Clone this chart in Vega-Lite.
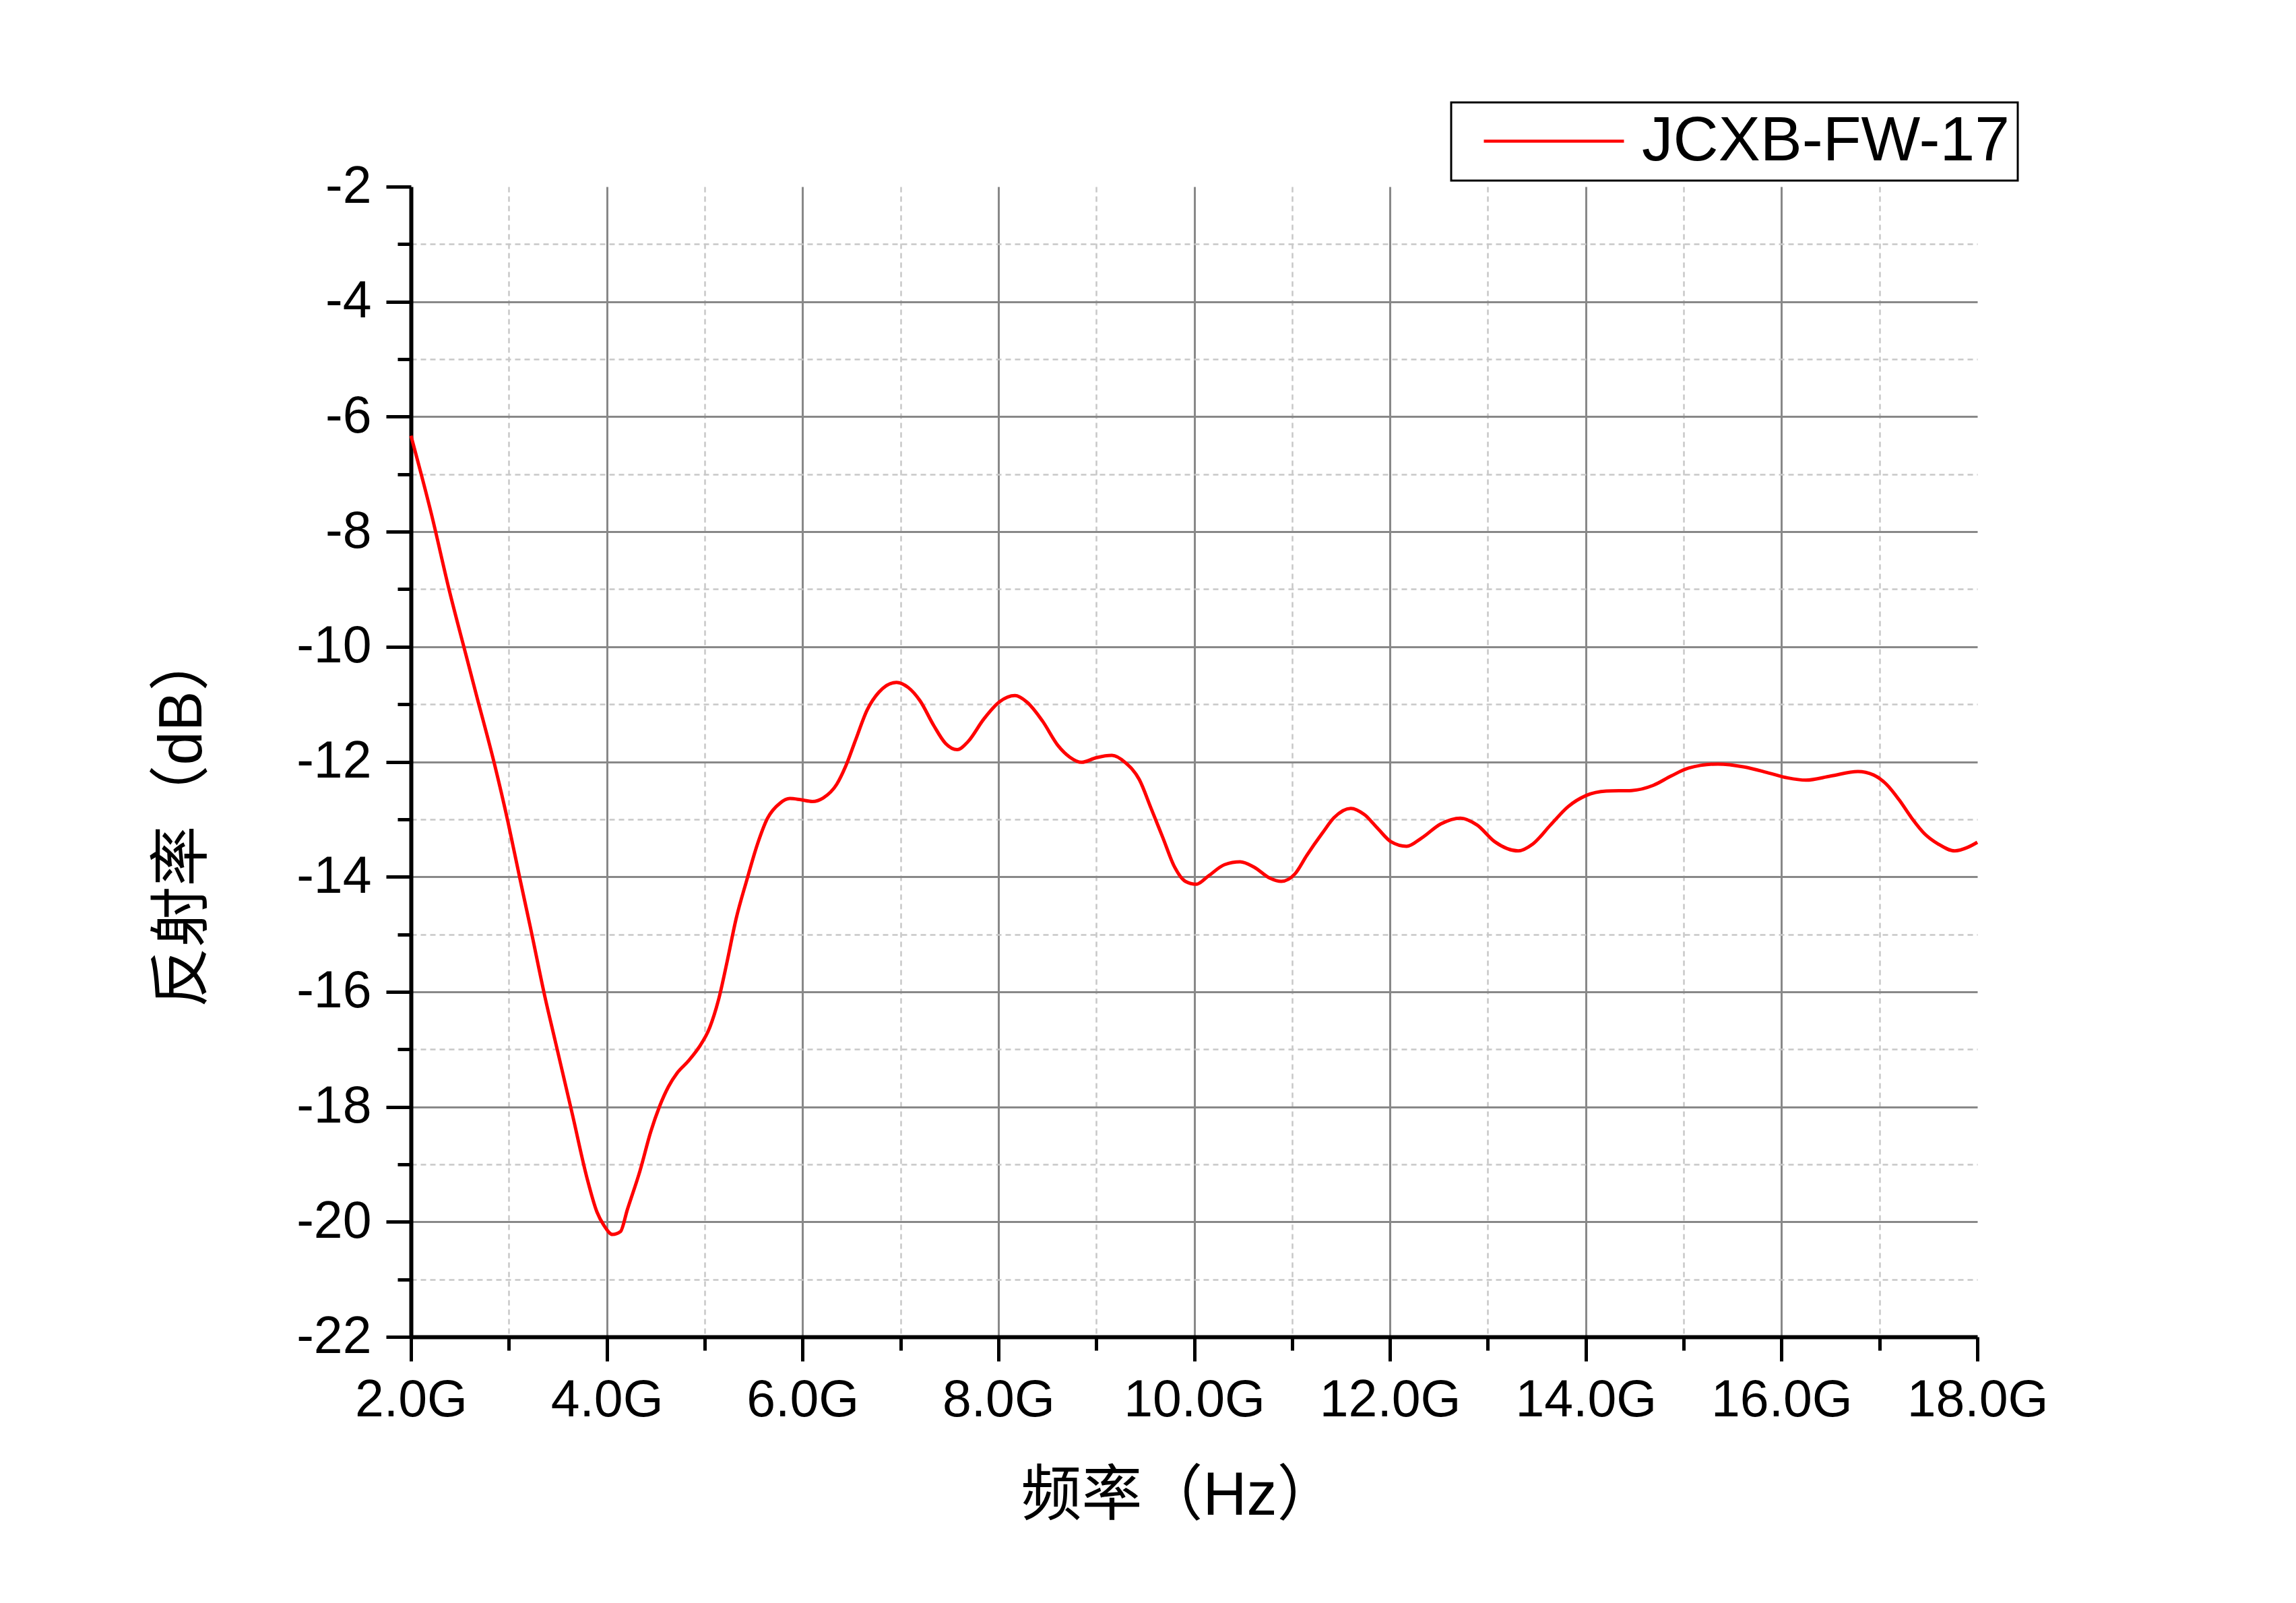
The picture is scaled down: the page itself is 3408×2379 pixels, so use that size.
{
  "$schema": "https://vega.github.io/schema/vega-lite/v6.json",
  "width": 2325,
  "height": 1707,
  "autosize": "none",
  "padding": {"left": 610, "top": 277, "right": 473, "bottom": 395},
  "background": "white",
  "config": {"view": {"stroke": null}},
  "data": {"values": [
    {"freq": 2.00, "rl": -6.33, "series": "JCXB-FW-17"},
    {"freq": 2.21, "rl": -7.70, "series": "JCXB-FW-17"},
    {"freq": 2.39, "rl": -9.01, "series": "JCXB-FW-17"},
    {"freq": 2.56, "rl": -10.13, "series": "JCXB-FW-17"},
    {"freq": 2.67, "rl": -10.85, "series": "JCXB-FW-17"},
    {"freq": 2.85, "rl": -12.02, "series": "JCXB-FW-17"},
    {"freq": 2.99, "rl": -13.04, "series": "JCXB-FW-17"},
    {"freq": 3.11, "rl": -14.01, "series": "JCXB-FW-17"},
    {"freq": 3.22, "rl": -14.88, "series": "JCXB-FW-17"},
    {"freq": 3.37, "rl": -16.10, "series": "JCXB-FW-17"},
    {"freq": 3.47, "rl": -16.83, "series": "JCXB-FW-17"},
    {"freq": 3.65, "rl": -18.14, "series": "JCXB-FW-17"},
    {"freq": 3.80, "rl": -19.25, "series": "JCXB-FW-17"},
    {"freq": 3.90, "rl": -19.83, "series": "JCXB-FW-17"},
    {"freq": 3.97, "rl": -20.06, "series": "JCXB-FW-17"},
    {"freq": 4.06, "rl": -20.22, "series": "JCXB-FW-17"},
    {"freq": 4.14, "rl": -20.17, "series": "JCXB-FW-17"},
    {"freq": 4.21, "rl": -19.79, "series": "JCXB-FW-17"},
    {"freq": 4.34, "rl": -19.11, "series": "JCXB-FW-17"},
    {"freq": 4.45, "rl": -18.43, "series": "JCXB-FW-17"},
    {"freq": 4.54, "rl": -17.99, "series": "JCXB-FW-17"},
    {"freq": 4.63, "rl": -17.65, "series": "JCXB-FW-17"},
    {"freq": 4.72, "rl": -17.41, "series": "JCXB-FW-17"},
    {"freq": 4.83, "rl": -17.21, "series": "JCXB-FW-17"},
    {"freq": 4.94, "rl": -16.97, "series": "JCXB-FW-17"},
    {"freq": 5.05, "rl": -16.63, "series": "JCXB-FW-17"},
    {"freq": 5.14, "rl": -16.15, "series": "JCXB-FW-17"},
    {"freq": 5.23, "rl": -15.47, "series": "JCXB-FW-17"},
    {"freq": 5.32, "rl": -14.74, "series": "JCXB-FW-17"},
    {"freq": 5.43, "rl": -14.06, "series": "JCXB-FW-17"},
    {"freq": 5.54, "rl": -13.43, "series": "JCXB-FW-17"},
    {"freq": 5.64, "rl": -12.99, "series": "JCXB-FW-17"},
    {"freq": 5.77, "rl": -12.72, "series": "JCXB-FW-17"},
    {"freq": 5.87, "rl": -12.64, "series": "JCXB-FW-17"},
    {"freq": 5.98, "rl": -12.66, "series": "JCXB-FW-17"},
    {"freq": 6.10, "rl": -12.69, "series": "JCXB-FW-17"},
    {"freq": 6.21, "rl": -12.63, "series": "JCXB-FW-17"},
    {"freq": 6.35, "rl": -12.39, "series": "JCXB-FW-17"},
    {"freq": 6.44, "rl": -12.08, "series": "JCXB-FW-17"},
    {"freq": 6.54, "rl": -11.63, "series": "JCXB-FW-17"},
    {"freq": 6.66, "rl": -11.10, "series": "JCXB-FW-17"},
    {"freq": 6.78, "rl": -10.79, "series": "JCXB-FW-17"},
    {"freq": 6.96, "rl": -10.62, "series": "JCXB-FW-17"},
    {"freq": 7.08, "rl": -10.71, "series": "JCXB-FW-17"},
    {"freq": 7.20, "rl": -10.94, "series": "JCXB-FW-17"},
    {"freq": 7.34, "rl": -11.37, "series": "JCXB-FW-17"},
    {"freq": 7.46, "rl": -11.68, "series": "JCXB-FW-17"},
    {"freq": 7.58, "rl": -11.79, "series": "JCXB-FW-17"},
    {"freq": 7.69, "rl": -11.65, "series": "JCXB-FW-17"},
    {"freq": 7.85, "rl": -11.26, "series": "JCXB-FW-17"},
    {"freq": 8.01, "rl": -10.96, "series": "JCXB-FW-17"},
    {"freq": 8.17, "rl": -10.85, "series": "JCXB-FW-17"},
    {"freq": 8.29, "rl": -10.96, "series": "JCXB-FW-17"},
    {"freq": 8.45, "rl": -11.29, "series": "JCXB-FW-17"},
    {"freq": 8.61, "rl": -11.72, "series": "JCXB-FW-17"},
    {"freq": 8.73, "rl": -11.92, "series": "JCXB-FW-17"},
    {"freq": 8.85, "rl": -12.01, "series": "JCXB-FW-17"},
    {"freq": 9.00, "rl": -11.93, "series": "JCXB-FW-17"},
    {"freq": 9.16, "rl": -11.89, "series": "JCXB-FW-17"},
    {"freq": 9.30, "rl": -12.02, "series": "JCXB-FW-17"},
    {"freq": 9.44, "rl": -12.31, "series": "JCXB-FW-17"},
    {"freq": 9.56, "rl": -12.81, "series": "JCXB-FW-17"},
    {"freq": 9.68, "rl": -13.32, "series": "JCXB-FW-17"},
    {"freq": 9.80, "rl": -13.83, "series": "JCXB-FW-17"},
    {"freq": 9.91, "rl": -14.08, "series": "JCXB-FW-17"},
    {"freq": 10.02, "rl": -14.13, "series": "JCXB-FW-17"},
    {"freq": 10.15, "rl": -13.98, "series": "JCXB-FW-17"},
    {"freq": 10.31, "rl": -13.79, "series": "JCXB-FW-17"},
    {"freq": 10.47, "rl": -13.74, "series": "JCXB-FW-17"},
    {"freq": 10.61, "rl": -13.83, "series": "JCXB-FW-17"},
    {"freq": 10.77, "rl": -14.02, "series": "JCXB-FW-17"},
    {"freq": 10.89, "rl": -14.08, "series": "JCXB-FW-17"},
    {"freq": 11.03, "rl": -13.95, "series": "JCXB-FW-17"},
    {"freq": 11.15, "rl": -13.63, "series": "JCXB-FW-17"},
    {"freq": 11.31, "rl": -13.24, "series": "JCXB-FW-17"},
    {"freq": 11.43, "rl": -12.97, "series": "JCXB-FW-17"},
    {"freq": 11.60, "rl": -12.81, "series": "JCXB-FW-17"},
    {"freq": 11.74, "rl": -12.92, "series": "JCXB-FW-17"},
    {"freq": 11.88, "rl": -13.17, "series": "JCXB-FW-17"},
    {"freq": 12.01, "rl": -13.39, "series": "JCXB-FW-17"},
    {"freq": 12.17, "rl": -13.47, "series": "JCXB-FW-17"},
    {"freq": 12.32, "rl": -13.33, "series": "JCXB-FW-17"},
    {"freq": 12.52, "rl": -13.08, "series": "JCXB-FW-17"},
    {"freq": 12.72, "rl": -12.98, "series": "JCXB-FW-17"},
    {"freq": 12.89, "rl": -13.10, "series": "JCXB-FW-17"},
    {"freq": 13.07, "rl": -13.39, "series": "JCXB-FW-17"},
    {"freq": 13.31, "rl": -13.55, "series": "JCXB-FW-17"},
    {"freq": 13.46, "rl": -13.43, "series": "JCXB-FW-17"},
    {"freq": 13.64, "rl": -13.10, "series": "JCXB-FW-17"},
    {"freq": 13.82, "rl": -12.78, "series": "JCXB-FW-17"},
    {"freq": 14.00, "rl": -12.59, "series": "JCXB-FW-17"},
    {"freq": 14.21, "rl": -12.51, "series": "JCXB-FW-17"},
    {"freq": 14.47, "rl": -12.50, "series": "JCXB-FW-17"},
    {"freq": 14.69, "rl": -12.41, "series": "JCXB-FW-17"},
    {"freq": 14.87, "rl": -12.25, "series": "JCXB-FW-17"},
    {"freq": 15.05, "rl": -12.11, "series": "JCXB-FW-17"},
    {"freq": 15.35, "rl": -12.04, "series": "JCXB-FW-17"},
    {"freq": 15.62, "rl": -12.09, "series": "JCXB-FW-17"},
    {"freq": 15.88, "rl": -12.20, "series": "JCXB-FW-17"},
    {"freq": 16.06, "rl": -12.28, "series": "JCXB-FW-17"},
    {"freq": 16.25, "rl": -12.32, "series": "JCXB-FW-17"},
    {"freq": 16.50, "rl": -12.25, "series": "JCXB-FW-17"},
    {"freq": 16.78, "rl": -12.17, "series": "JCXB-FW-17"},
    {"freq": 16.94, "rl": -12.23, "series": "JCXB-FW-17"},
    {"freq": 17.07, "rl": -12.39, "series": "JCXB-FW-17"},
    {"freq": 17.20, "rl": -12.66, "series": "JCXB-FW-17"},
    {"freq": 17.33, "rl": -12.98, "series": "JCXB-FW-17"},
    {"freq": 17.46, "rl": -13.25, "series": "JCXB-FW-17"},
    {"freq": 17.60, "rl": -13.43, "series": "JCXB-FW-17"},
    {"freq": 17.77, "rl": -13.55, "series": "JCXB-FW-17"},
    {"freq": 17.90, "rl": -13.49, "series": "JCXB-FW-17"},
    {"freq": 18.00, "rl": -13.40, "series": "JCXB-FW-17"}
  ]},
  "resolve": {"axis": {"x": "independent", "y": "independent"}},
  "layer": [
    {
      "mark": {"type": "line", "opacity": 0},
      "encoding": {
        "x": {
          "field": "freq", "type": "quantitative",
          "scale": {"domain": [2, 18], "nice": false, "zero": false},
          "axis": {
            "orient": "bottom", "values": [3, 5, 7, 9, 11, 13, 15, 17],
            "labels": false, "domain": false, "title": null,
            "ticks": true, "tickSize": 20, "tickWidth": 5, "tickColor": "black",
            "grid": true, "gridColor": "#c8c8c8", "gridDash": [8, 6], "gridWidth": 2.5
          }
        },
        "y": {
          "field": "rl", "type": "quantitative",
          "scale": {"domain": [-22, -2], "nice": false, "zero": false},
          "axis": {
            "orient": "left", "values": [-21, -19, -17, -15, -13, -11, -9, -7, -5, -3],
            "labels": false, "domain": false, "title": null,
            "ticks": true, "tickSize": 20, "tickWidth": 5, "tickColor": "black",
            "grid": true, "gridColor": "#c8c8c8", "gridDash": [8, 6], "gridWidth": 2.5
          }
        }
      }
    },
    {
      "mark": {"type": "line", "strokeWidth": 5, "interpolate": "monotone"},
      "encoding": {
        "x": {
          "field": "freq", "type": "quantitative",
          "scale": {"domain": [2, 18], "nice": false, "zero": false},
          "axis": {
            "orient": "bottom", "values": [2, 4, 6, 8, 10, 12, 14, 16, 18],
            "labelExpr": "format(datum.value, '.1f') + 'G'",
            "labelFont": "Liberation Sans", "labelFontSize": 77, "labelColor": "black",
            "labelPadding": 20, "labelFlush": false, "labelOverlap": false, "labelLimit": 1000,
            "domain": true, "domainColor": "black", "domainWidth": 6,
            "ticks": true, "tickSize": 36, "tickWidth": 5, "tickColor": "black",
            "grid": true, "gridColor": "#888888", "gridWidth": 3,
            "gridOpacity": {"condition": {"test": "datum.value == 2 || datum.value == 18", "value": 0}, "value": 1},
            "title": "频率（Hz）",
            "titleFont": "Liberation Sans, Noto Sans CJK SC", "titleFontSize": 90,
            "titleFontWeight": "normal", "titleColor": "black",
            "titleX": 1140, "titleY": 263, "titleAlign": "center", "titleBaseline": "alphabetic"
          }
        },
        "y": {
          "field": "rl", "type": "quantitative",
          "scale": {"domain": [-22, -2], "nice": false, "zero": false},
          "axis": {
            "orient": "left", "values": [-22, -20, -18, -16, -14, -12, -10, -8, -6, -4, -2],
            "labelExpr": "'' + datum.value",
            "labelFont": "Liberation Sans", "labelFontSize": 77, "labelColor": "black",
            "labelPadding": 22, "labelFlush": false, "labelOverlap": false, "labelLimit": 1000,
            "domain": true, "domainColor": "black", "domainWidth": 6,
            "ticks": true, "tickSize": 37, "tickWidth": 5, "tickColor": "black",
            "grid": true, "gridColor": "#888888", "gridWidth": 3,
            "gridOpacity": {"condition": {"test": "datum.value == -2 || datum.value == -22", "value": 0}, "value": 1},
            "title": "反射率（dB）",
            "titleFont": "Liberation Sans, Noto Sans CJK SC", "titleFontSize": 90,
            "titleFontWeight": "normal", "titleColor": "black",
            "titleAngle": -90, "titleX": -312, "titleY": 938, "titleAlign": "center", "titleBaseline": "alphabetic"
          }
        },
        "color": {
          "field": "series", "type": "nominal",
          "scale": {"range": ["#ff0000"]},
          "legend": {
            "orient": "none", "legendX": 1544, "legendY": -125,
            "title": null, "direction": "vertical",
            "strokeColor": "black", "padding": 11, "cornerRadius": 0,
            "symbolType": "stroke", "symbolSize": 43264, "symbolStrokeWidth": 4.5,
            "symbolOffset": 35, "clipHeight": 93,
            "labelFont": "Liberation Sans", "labelFontSize": 93, "labelColor": "black",
            "labelOffset": 24, "labelLimit": 1000,
            "encode": {"legend": {"update": {"strokeWidth": {"value": 3}}}}
          }
        }
      }
    }
  ]
}
